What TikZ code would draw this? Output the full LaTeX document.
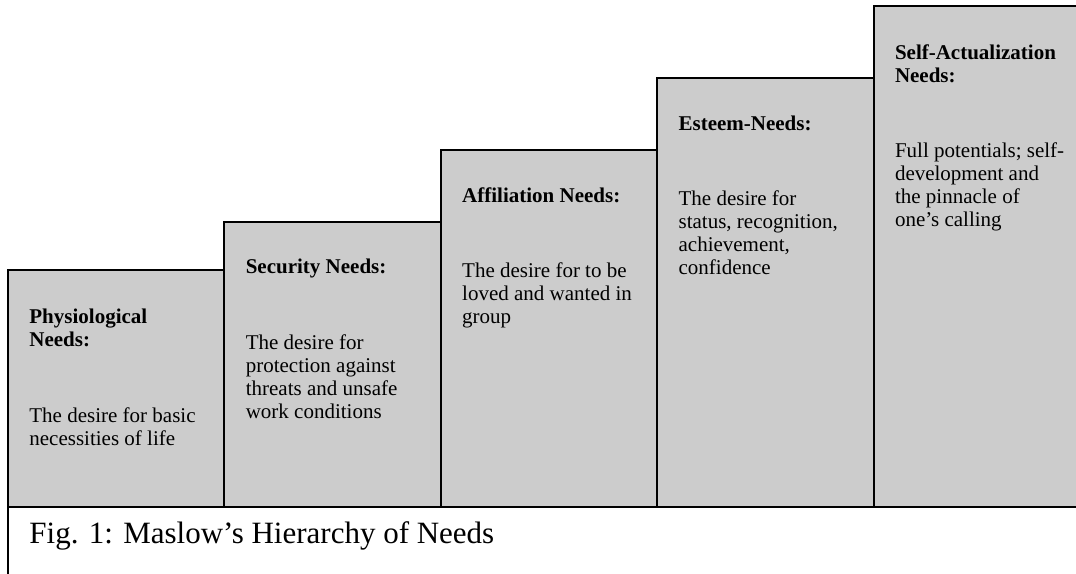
\documentclass[tikz,border=0pt]{standalone}
\usepackage{fontspec}
\setmainfont{Liberation Serif}
\usepackage{tikz}

\definecolor{needsgray}{RGB}{204,204,204}
\newcommand{\needsfont}{\fontsize{10.5}{11.5}\selectfont}
\tikzset{
  stepbox/.style={draw=black, line width=1pt, fill=needsgray, anchor=south west,
    minimum width=108.2pt, inner sep=0pt, outer sep=0pt},
  heading/.style={anchor=base west, inner sep=0pt, align=left, font=\needsfont\bfseries},
  blurb/.style={anchor=base west, inner sep=0pt, align=left, font=\needsfont},
}

\begin{document}
\begin{tikzpicture}[x=0.5pt, y=-0.5pt]
\path[use as bounding box, clip] (0,0) rectangle (1076,573);
\node[draw=black, line width=1pt, anchor=north west, minimum width=600pt,
  minimum height=60pt, inner sep=0pt, outer sep=0pt] (caption) at (8,507) {};
\node[anchor=base west, inner sep=0pt, font=\fontsize{15.5}{18}\selectfont]
  (captiontext) at (29,543) {Fig. 1: Maslow’s Hierarchy of Needs};

\node[stepbox, minimum height=118.5pt] (physio) at (8,507) {};
\node[stepbox, minimum height=142.5pt] (security) at (physio.south east) {};
\node[stepbox, minimum height=178.5pt] (affiliation) at (security.south east) {};
\node[stepbox, minimum height=214.5pt] (esteem) at (affiliation.south east) {};
\node[stepbox, minimum height=250.5pt] (selfact) at (esteem.south east) {};

\node[heading] (physiohead) at ([shift={(21,76)}]physio.north west) {Physiological\\Needs:};
\node[blurb] (physiotext) at ([shift={(21,175)}]physio.north west)
  {The desire for basic\\necessities of life};

\node[heading] (securityhead) at ([shift={(21,51)}]security.north west) {Security Needs:};
\node[blurb] (securitytext) at ([shift={(21,196)}]security.north west)
  {The desire for\\protection against\\threats and unsafe\\work conditions};

\node[heading] (affiliationhead) at ([shift={(21,52)}]affiliation.north west) {Affiliation Needs:};
\node[blurb] (affiliationtext) at ([shift={(21,173)}]affiliation.north west)
  {The desire for to be\\loved and wanted in\\group};

\node[heading] (esteemhead) at ([shift={(21,52)}]esteem.north west) {Esteem-Needs:};
\node[blurb] (esteemtext) at ([shift={(21,196)}]esteem.north west)
  {The desire for\\status, recognition,\\achievement,\\confidence};

\node[heading] (selfacthead) at ([shift={(21,76)}]selfact.north west) {Self-Actualization\\Needs:};
\node[blurb] (selfacttext) at ([shift={(21,220)}]selfact.north west)
  {Full potentials; self-\\development and\\the pinnacle of\\one’s calling};
\end{tikzpicture}
\end{document}
